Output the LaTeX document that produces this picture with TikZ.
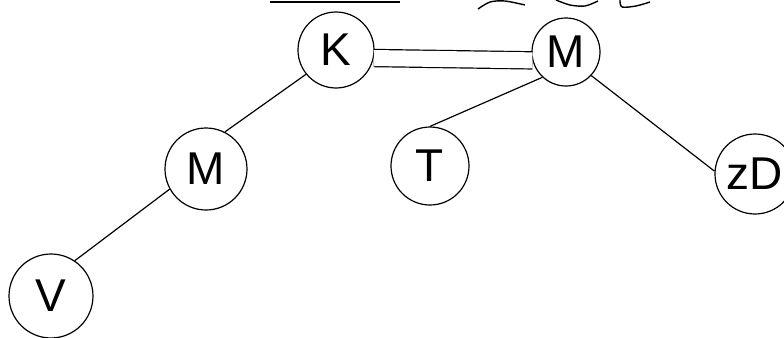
\documentclass[tikz,border=0pt]{standalone}
\usepackage{fontspec}
\setmainfont{Liberation Sans}
\begin{document}
\begin{tikzpicture}[x=0.5pt,y=-0.5pt,
vertex/.style={
% The shape:
circle,
draw=black,
line width=0.6pt,
inner sep=0pt,
minimum size=38pt,
font=\fontsize{23}{25}\selectfont
},
link/.style={
draw=black,
line width=0.6pt
},
dbl/.style={
link,
double,
double distance=8pt
}
]
\useasboundingbox (0,0) rectangle (784,338);
% Vertices:
\node (k) [vertex] at (336,50) {K};
\node (mtop) [vertex,minimum size=34pt] at (566,52) {M};
\node (mleft) [vertex,minimum size=41pt] at (206,169) {M};
\node (v) [vertex,minimum size=42pt] at (51,296) {V};
\node (t) [vertex,minimum size=39pt] at (430,166) {T};
\node (zd) [vertex,minimum size=40pt] at (755,174) {zD};
% Links:
\path[link] (k.219) -- (mleft.63) (mleft.209) -- (v.56);
\path[link] (mtop.227) -- (t.north) (mtop.317) -- (zd.176);
\path[dbl] (k.-12) -- (mtop.194);
% Fragments at the top edge:
\draw[line width=1.3pt] (270,2) -- (400,2);
\draw[line width=0.7pt] plot[smooth] coordinates {(478,9) (490,2) (505,1) (525,5)};
\draw[line width=0.7pt] plot[smooth] coordinates {(556,0) (570,5) (585,6) (598,1)};
\draw[line width=0.7pt] plot[smooth] coordinates {(620,0) (622,7) (636,6) (650,2)};
\end{tikzpicture}
\end{document}
